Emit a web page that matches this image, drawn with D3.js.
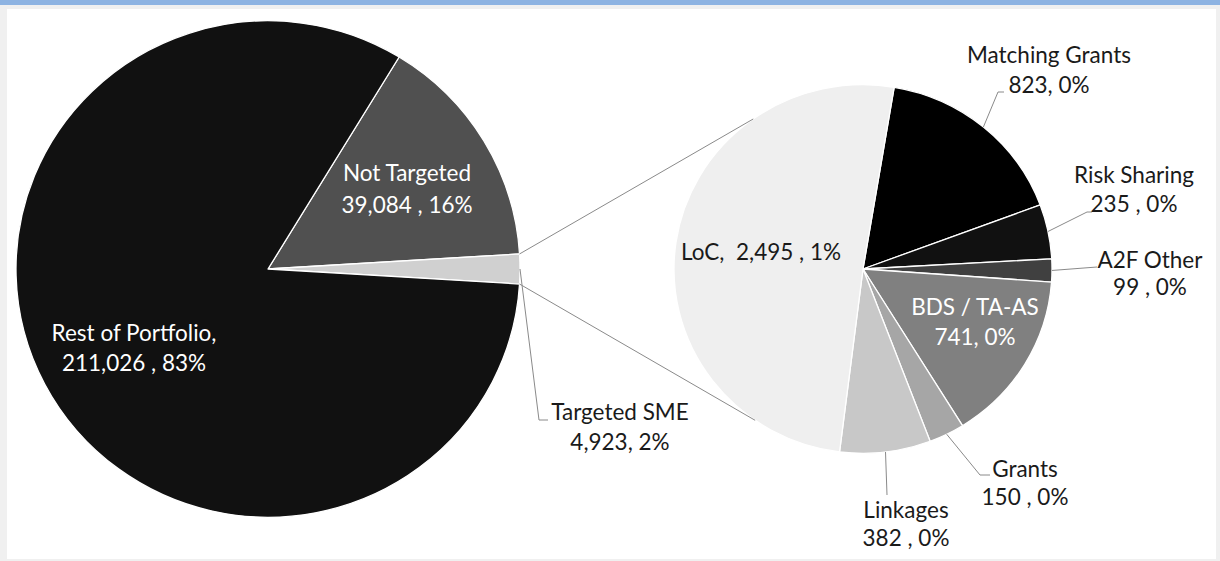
<!DOCTYPE html>
<html>
<head>
<meta charset="utf-8">
<script src="https://cdn.jsdelivr.net/npm/d3@7"></script>
<style>
  html, body { margin: 0; padding: 0; background: #f0f0f0; }
  svg { display: block; }
  text { font-family: Lato, "Open Sans", sans-serif; }
</style>
</head>
<body>
<svg id="chart" width="1220" height="561"></svg>
<script>
// ---- data ----
const mainCategories = ["Not Targeted", "Targeted SME", "Rest of Portfolio"];
const mainValues = [39084, 4923, 211026];
const mainPercents = ["16%", "2%", "83%"];
const mainValueText = ["39,084 , ", "4,923, ", "211,026 , "];

const subCategories = ["Matching Grants", "Risk Sharing", "A2F Other", "BDS / TA-AS", "Grants", "Linkages", "LoC"];
const subValues = [823, 235, 99, 741, 150, 382, 2495];
const subPercents = ["0%", "0%", "0%", "0%", "0%", "0%", "1%"];
const subValueText = ["823, ", "235 , ", "99 , ", "741, ", "150 , ", "382 , ", "2,495 , "];

// ---- styles / layout ----
const mainColors = ["#505050", "#d0d0d0", "#111111"];
const subColors = ["#000000", "#111111", "#404040", "#808080", "#a6a6a6", "#c8c8c8", "#efefef"];
const deg = Math.PI / 180;

const svg = d3.select("#chart");
svg.append("rect").attr("x", 0).attr("y", 0).attr("width", 1220).attr("height", 5).attr("fill", "#8db3e2");
svg.append("rect").attr("x", 7).attr("y", 9).attr("width", 1209).attr("height", 550).attr("fill", "#ffffff");

const main = { cx: 268, cy: 269, r: 252, sy: 0.985 };
const sub = { cx: 863, cy: 269, r: 189, sy: 0.975 };

// main pie: Targeted SME wedge centred on 3 o'clock
const mainTotal = d3.sum(mainValues);
const smeSpan = mainValues[1] / mainTotal * 2 * Math.PI;
const ntSpan = mainValues[0] / mainTotal * 2 * Math.PI;
const mainStart = Math.PI / 2 - smeSpan / 2 - ntSpan;
const mainPie = d3.pie().sort(null).startAngle(mainStart).endAngle(mainStart + 2 * Math.PI);
const mainArcs = mainPie(mainValues);
const mainArc = d3.arc().innerRadius(0).outerRadius(main.r);

const gMain = svg.append("g").attr("transform", `translate(${main.cx},${main.cy}) scale(1,${main.sy})`);
gMain.selectAll("path").data(mainArcs).join("path")
  .attr("d", mainArc)
  .attr("fill", (d, i) => mainColors[i])
  .attr("stroke", "#ffffff").attr("stroke-width", 1.3).attr("stroke-linejoin", "round");

// sub pie
const subStart = 9.5 * deg;
const subPie = d3.pie().sort(null).startAngle(subStart).endAngle(subStart + 2 * Math.PI);
const subArcs = subPie(subValues);
const subArc = d3.arc().innerRadius(0).outerRadius(sub.r);
const gSub = svg.append("g").attr("transform", `translate(${sub.cx},${sub.cy}) scale(1,${sub.sy})`);
gSub.selectAll("path").data(subArcs).join("path")
  .attr("d", subArc)
  .attr("fill", (d, i) => subColors[i])
  .attr("stroke", "#ffffff").attr("stroke-width", 1.3).attr("stroke-linejoin", "round");

function polar(c, r, a) { return [c.cx + r * Math.sin(a), c.cy - r * c.sy * Math.cos(a)]; }

// connector lines between pies
const sme = mainArcs[1];
const conn = [
  [polar(main, main.r, sme.startAngle), polar(sub, sub.r, 324.5 * deg)],
  [polar(main, main.r, sme.endAngle), polar(sub, sub.r, 214.8 * deg)]
];
svg.selectAll("line.conn").data(conn).join("line").attr("class", "conn")
  .attr("x1", d => d[0][0]).attr("y1", d => d[0][1])
  .attr("x2", d => d[1][0]).attr("y2", d => d[1][1])
  .attr("stroke", "#8a8a8a").attr("stroke-width", 1);

// label layout
const mainLabelLayout = [
  { x: 407, y1: 181, y2: 213, fill: "#ffffff" },
  { x: 620, y1: 420, y2: 450, fill: "#1a1a1a", leader: [[539, 420], [548, 420]] },
  { x: 134, y1: 341, y2: 371, fill: "#ffffff" }
];
const subLabelLayout = [
  { x: 1049, y1: 63, y2: 93, fill: "#1a1a1a", leader: [[998, 92], [1004, 92]] },
  { x: 1134, y1: 183, y2: 212, fill: "#1a1a1a", leader: [[1087, 212], [1092, 212]] },
  { x: 1150, y1: 268, y2: 295, fill: "#1a1a1a", leader: [[1097, 267]] },
  { x: 975, y1: 315, y2: 345, fill: "#ffffff" },
  { x: 1025, y1: 477, y2: 505, fill: "#1a1a1a", leader: [[980, 475], [990, 475]] },
  { x: 906, y1: 518, y2: 546, fill: "#1a1a1a", leader: [[887, 495]] },
  { x: 761, y1: 260, y2: null, fill: "#1a1a1a", single: true }
];

const fontSize = 22.5;
const line = d3.line();

function drawLabels(arcs, centre, r, cats, valText, pcts, layout, sep) {
  arcs.forEach((a, i) => {
    const L = layout[i];
    if (L.leader) {
      const mid = (a.startAngle + a.endAngle) / 2;
      const pts = [polar(centre, r, mid)].concat(L.leader);
      svg.append("path").attr("d", line(pts)).attr("fill", "none")
        .attr("stroke", "#8a8a8a").attr("stroke-width", 1);
    }
    if (L.single) {
      svg.append("text").attr("x", L.x).attr("y", L.y1).attr("text-anchor", "middle")
        .attr("font-size", fontSize).attr("fill", L.fill)
        .text(cats[i] + ",\u00a0 " + valText[i] + pcts[i]);
    } else {
      svg.append("text").attr("x", L.x).attr("y", L.y1).attr("text-anchor", "middle")
        .attr("font-size", fontSize).attr("fill", L.fill)
        .text(cats[i] + sep[i]);
      svg.append("text").attr("x", L.x).attr("y", L.y2).attr("text-anchor", "middle")
        .attr("font-size", fontSize).attr("fill", L.fill)
        .text(valText[i] + pcts[i]);
    }
  });
}

drawLabels(mainArcs, main, main.r, mainCategories, mainValueText, mainPercents, mainLabelLayout, ["", "", ","]);
drawLabels(subArcs, sub, sub.r, subCategories, subValueText, subPercents, subLabelLayout, ["", "", "", "", "", "", ""]);
</script>
</body>
</html>
